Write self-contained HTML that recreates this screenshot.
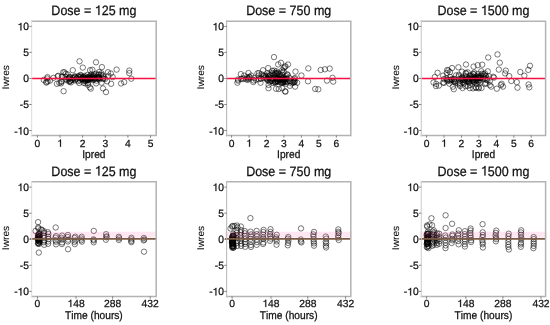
<!DOCTYPE html><html><head><meta charset="utf-8"><style>html,body{margin:0;padding:0;background:#fff;}svg{display:block;will-change:transform;}text{font-family:"Liberation Sans", sans-serif;text-rendering:geometricPrecision;font-kerning:none;white-space:pre;fill:#111;stroke:#111;stroke-width:0.25px;}path.g{fill:#111;stroke:#111;stroke-width:0.25px;}</style></head><body>
<svg width="550" height="325" viewBox="0 0 550 325">
<g transform="translate(93.90,15.00) scale(1,1.08)"><text x="-42.56" y="0" font-size="12.5">Dose = </text><path class="g" d="M4.43,0.00L5.53,0.00L5.53,-8.86L4.64,-8.86L4.36,-8.25L3.87,-7.69L3.12,-7.31L2.18,-7.12L2.18,-6.35L3.12,-6.46L3.87,-6.69L4.43,-7.00Z"/><text x="7.82" y="0" font-size="12.5">25 mg</text></g>
<g fill="none" stroke="#000" stroke-width="0.75" stroke-opacity="0.7"><circle cx="79.5" cy="61.3" r="2.7"/><circle cx="96.0" cy="62.3" r="2.7"/><circle cx="82.8" cy="67.6" r="2.7"/><circle cx="101.9" cy="67.1" r="2.7"/><circle cx="92.4" cy="69.8" r="2.7"/><circle cx="116.6" cy="69.6" r="2.7"/><circle cx="129.3" cy="70.6" r="2.7"/><circle cx="129.2" cy="73.1" r="2.7"/><circle cx="110.8" cy="73.5" r="2.7"/><circle cx="131.3" cy="78.7" r="2.7"/><circle cx="124.2" cy="82.1" r="2.7"/><circle cx="121.1" cy="83.5" r="2.7"/><circle cx="111.1" cy="83.8" r="2.7"/><circle cx="63.6" cy="91.2" r="2.7"/><circle cx="89.8" cy="87.3" r="2.7"/><circle cx="90.8" cy="88.6" r="2.7"/><circle cx="103.0" cy="88.4" r="2.7"/><circle cx="106.0" cy="92.1" r="2.7"/><circle cx="43.8" cy="79.9" r="2.7"/><circle cx="47.2" cy="78.5" r="2.7"/><circle cx="50.0" cy="80.6" r="2.7"/><circle cx="53.5" cy="77.8" r="2.7"/><circle cx="56.9" cy="83.8" r="2.7"/><circle cx="58.3" cy="75.8" r="2.7"/><circle cx="61.1" cy="83.4" r="2.7"/><circle cx="64.5" cy="72.3" r="2.7"/><circle cx="72.8" cy="70.2" r="2.7"/><circle cx="90.1" cy="70.2" r="2.7"/><circle cx="85.3" cy="83.4" r="2.7"/><circle cx="96.1" cy="83.4" r="2.7"/><circle cx="101.6" cy="82.7" r="2.7"/><circle cx="107.1" cy="81.3" r="2.7"/><circle cx="112.7" cy="77.1" r="2.7"/><circle cx="108.5" cy="75.8" r="2.7"/><circle cx="88.0" cy="84.8" r="2.7"/><circle cx="82.9" cy="78.7" r="2.7"/><circle cx="83.3" cy="76.9" r="2.7"/><circle cx="74.8" cy="77.2" r="2.7"/><circle cx="99.3" cy="78.5" r="2.7"/><circle cx="98.4" cy="78.1" r="2.7"/><circle cx="90.7" cy="78.0" r="2.7"/><circle cx="66.0" cy="79.4" r="2.7"/><circle cx="92.1" cy="78.6" r="2.7"/><circle cx="65.7" cy="73.9" r="2.7"/><circle cx="75.3" cy="76.6" r="2.7"/><circle cx="89.7" cy="77.5" r="2.7"/><circle cx="92.3" cy="76.3" r="2.7"/><circle cx="89.7" cy="78.4" r="2.7"/><circle cx="78.1" cy="81.2" r="2.7"/><circle cx="92.7" cy="80.1" r="2.7"/><circle cx="78.6" cy="76.0" r="2.7"/><circle cx="81.9" cy="77.4" r="2.7"/><circle cx="93.6" cy="78.1" r="2.7"/><circle cx="80.6" cy="75.6" r="2.7"/><circle cx="79.8" cy="80.2" r="2.7"/><circle cx="76.3" cy="78.1" r="2.7"/><circle cx="91.1" cy="74.5" r="2.7"/><circle cx="86.6" cy="80.3" r="2.7"/><circle cx="61.8" cy="76.9" r="2.7"/><circle cx="84.7" cy="75.9" r="2.7"/><circle cx="92.0" cy="77.5" r="2.7"/><circle cx="68.4" cy="79.3" r="2.7"/><circle cx="94.0" cy="79.6" r="2.7"/><circle cx="103.3" cy="78.4" r="2.7"/><circle cx="87.4" cy="74.9" r="2.7"/><circle cx="93.4" cy="76.3" r="2.7"/><circle cx="80.6" cy="74.9" r="2.7"/><circle cx="74.4" cy="76.5" r="2.7"/><circle cx="101.5" cy="73.3" r="2.7"/><circle cx="68.5" cy="78.1" r="2.7"/><circle cx="103.3" cy="78.8" r="2.7"/><circle cx="63.2" cy="72.3" r="2.7"/><circle cx="90.3" cy="76.1" r="2.7"/><circle cx="72.6" cy="79.7" r="2.7"/><circle cx="99.2" cy="77.9" r="2.7"/><circle cx="88.9" cy="78.5" r="2.7"/><circle cx="105.1" cy="78.9" r="2.7"/><circle cx="92.2" cy="78.8" r="2.7"/><circle cx="67.2" cy="80.3" r="2.7"/><circle cx="97.5" cy="78.7" r="2.7"/><circle cx="62.3" cy="76.3" r="2.7"/><circle cx="96.1" cy="73.8" r="2.7"/><circle cx="83.8" cy="79.7" r="2.7"/><circle cx="70.3" cy="81.0" r="2.7"/><circle cx="92.6" cy="77.3" r="2.7"/><circle cx="89.9" cy="79.0" r="2.7"/><circle cx="87.4" cy="80.0" r="2.7"/><circle cx="78.1" cy="76.7" r="2.7"/><circle cx="98.5" cy="77.7" r="2.7"/><circle cx="75.4" cy="79.6" r="2.7"/><circle cx="103.6" cy="76.7" r="2.7"/><circle cx="69.4" cy="77.3" r="2.7"/><circle cx="84.2" cy="77.0" r="2.7"/><circle cx="102.9" cy="75.4" r="2.7"/><circle cx="101.1" cy="74.9" r="2.7"/><circle cx="76.6" cy="78.9" r="2.7"/><circle cx="99.5" cy="79.4" r="2.7"/><circle cx="90.1" cy="77.9" r="2.7"/><circle cx="87.8" cy="78.8" r="2.7"/><circle cx="83.9" cy="78.2" r="2.7"/><circle cx="92.9" cy="77.6" r="2.7"/><circle cx="95.2" cy="78.8" r="2.7"/><circle cx="80.9" cy="76.8" r="2.7"/><circle cx="85.8" cy="79.5" r="2.7"/><circle cx="82.0" cy="78.4" r="2.7"/><circle cx="108.0" cy="72.2" r="2.7"/><circle cx="72.5" cy="78.1" r="2.7"/><circle cx="90.8" cy="78.1" r="2.7"/><circle cx="80.8" cy="79.0" r="2.7"/><circle cx="89.4" cy="76.5" r="2.7"/><circle cx="79.3" cy="77.4" r="2.7"/><circle cx="83.3" cy="77.5" r="2.7"/><circle cx="98.1" cy="75.1" r="2.7"/><circle cx="85.2" cy="79.6" r="2.7"/><circle cx="96.3" cy="80.7" r="2.7"/><circle cx="65.6" cy="76.9" r="2.7"/><circle cx="81.9" cy="78.9" r="2.7"/><circle cx="99.1" cy="72.0" r="2.7"/><circle cx="99.1" cy="74.6" r="2.7"/><circle cx="94.2" cy="74.5" r="2.7"/><circle cx="88.1" cy="80.1" r="2.7"/><circle cx="84.2" cy="78.0" r="2.7"/><circle cx="95.6" cy="77.9" r="2.7"/><circle cx="84.9" cy="80.8" r="2.7"/><circle cx="98.6" cy="77.0" r="2.7"/><circle cx="97.0" cy="77.0" r="2.7"/><circle cx="87.6" cy="79.1" r="2.7"/><circle cx="88.7" cy="78.9" r="2.7"/><circle cx="67.7" cy="74.4" r="2.7"/><circle cx="93.4" cy="75.6" r="2.7"/><circle cx="57.7" cy="76.3" r="2.7"/><circle cx="85.2" cy="81.1" r="2.7"/><circle cx="87.7" cy="77.4" r="2.7"/><circle cx="70.0" cy="77.0" r="2.7"/><circle cx="79.2" cy="83.0" r="2.7"/><circle cx="59.3" cy="82.9" r="2.7"/><circle cx="81.9" cy="79.1" r="2.7"/><circle cx="46.3" cy="82.6" r="2.7"/><circle cx="68.8" cy="78.2" r="2.7"/><circle cx="74.8" cy="80.4" r="2.7"/><circle cx="88.0" cy="77.3" r="2.7"/><circle cx="83.6" cy="82.8" r="2.7"/><circle cx="87.4" cy="79.1" r="2.7"/><circle cx="61.1" cy="81.7" r="2.7"/><circle cx="71.4" cy="79.8" r="2.7"/><circle cx="87.1" cy="78.9" r="2.7"/><circle cx="47.8" cy="81.3" r="2.7"/><circle cx="73.8" cy="78.2" r="2.7"/><circle cx="69.9" cy="81.3" r="2.7"/><circle cx="70.9" cy="82.4" r="2.7"/><circle cx="69.3" cy="81.8" r="2.7"/><circle cx="87.9" cy="83.0" r="2.7"/><circle cx="61.9" cy="81.4" r="2.7"/><circle cx="47.5" cy="77.1" r="2.7"/><circle cx="46.4" cy="81.9" r="2.7"/></g>
<line x1="31.6" x2="156.2" y1="78.45" y2="78.45" stroke="#fa1040" stroke-width="1.4"/>
<path d="M30.85,21.30H156.20V135.40H30.85" fill="none" stroke="#b3b3b3" stroke-width="1.5"/>
<line x1="31.60" x2="31.60" y1="20.55" y2="136.15" stroke="#e2e2e2" stroke-width="1.2"/>
<line x1="29.3" x2="31.6" y1="130.5" y2="130.5" stroke="#666" stroke-width="0.8"/>
<g transform="translate(29.00,134.50) scale(1,1.03)"><text x="-14.89" y="0" font-size="10.3">-</text><path class="g" d="M-8.52,0.00L-7.61,0.00L-7.61,-7.30L-8.35,-7.30L-8.57,-6.80L-8.98,-6.34L-9.60,-6.03L-10.38,-5.87L-10.38,-5.23L-9.60,-5.33L-8.98,-5.51L-8.52,-5.77Z"/><text x="-5.73" y="0" font-size="10.3">0</text></g>
<line x1="29.3" x2="31.6" y1="104.5" y2="104.5" stroke="#666" stroke-width="0.8"/>
<text transform="translate(29.00,108.47) scale(1,1.03)" font-size="10.3" text-anchor="end">-5</text>
<line x1="29.3" x2="31.6" y1="78.5" y2="78.5" stroke="#666" stroke-width="0.8"/>
<text transform="translate(29.00,82.45) scale(1,1.03)" font-size="10.3" text-anchor="end">0</text>
<line x1="29.3" x2="31.6" y1="52.4" y2="52.4" stroke="#666" stroke-width="0.8"/>
<text transform="translate(29.00,56.42) scale(1,1.03)" font-size="10.3" text-anchor="end">5</text>
<line x1="29.3" x2="31.6" y1="26.4" y2="26.4" stroke="#666" stroke-width="0.8"/>
<g transform="translate(29.00,30.40) scale(1,1.03)"><path class="g" d="M-8.52,0.00L-7.61,0.00L-7.61,-7.30L-8.35,-7.30L-8.57,-6.80L-8.98,-6.34L-9.60,-6.03L-10.38,-5.87L-10.38,-5.23L-9.60,-5.33L-8.98,-5.51L-8.52,-5.77Z"/><text x="-5.73" y="0" font-size="10.3">0</text></g>
<line x1="37.4" x2="37.4" y1="135.4" y2="137.7" stroke="#666" stroke-width="0.8"/>
<text transform="translate(37.40,146.80)" font-size="10.3" text-anchor="middle">0</text>
<line x1="60.0" x2="60.0" y1="135.4" y2="137.7" stroke="#666" stroke-width="0.8"/>
<g transform="translate(60.02,146.80)"><path class="g" d="M0.07,0.00L0.98,0.00L0.98,-7.30L0.24,-7.30L0.02,-6.80L-0.39,-6.34L-1.01,-6.03L-1.78,-5.87L-1.78,-5.23L-1.01,-5.33L-0.39,-5.51L0.07,-5.77Z"/></g>
<line x1="82.6" x2="82.6" y1="135.4" y2="137.7" stroke="#666" stroke-width="0.8"/>
<text transform="translate(82.64,146.80)" font-size="10.3" text-anchor="middle">2</text>
<line x1="105.3" x2="105.3" y1="135.4" y2="137.7" stroke="#666" stroke-width="0.8"/>
<text transform="translate(105.26,146.80)" font-size="10.3" text-anchor="middle">3</text>
<line x1="127.9" x2="127.9" y1="135.4" y2="137.7" stroke="#666" stroke-width="0.8"/>
<text transform="translate(127.88,146.80)" font-size="10.3" text-anchor="middle">4</text>
<line x1="150.5" x2="150.5" y1="135.4" y2="137.7" stroke="#666" stroke-width="0.8"/>
<text transform="translate(150.50,146.80)" font-size="10.3" text-anchor="middle">5</text>
<text transform="translate(93.90,157.80) scale(1,1.1)" font-size="10.2" text-anchor="middle">Ipred</text>
<text transform="translate(9.40,77.25) rotate(-90) scale(1,0.95)" font-size="10.2" text-anchor="middle" style="stroke-width:0.1px">Iwres</text>
<text transform="translate(288.70,15.00) scale(1,1.08)" font-size="12.5" text-anchor="middle">Dose = 750 mg</text>
<g fill="none" stroke="#000" stroke-width="0.75" stroke-opacity="0.7"><circle cx="274.0" cy="57.1" r="2.7"/><circle cx="278.2" cy="64.4" r="2.7"/><circle cx="284.8" cy="66.8" r="2.7"/><circle cx="240.8" cy="74.1" r="2.7"/><circle cx="248.5" cy="73.0" r="2.7"/><circle cx="237.4" cy="82.7" r="2.7"/><circle cx="238.1" cy="80.6" r="2.7"/><circle cx="257.4" cy="73.3" r="2.7"/><circle cx="263.0" cy="70.2" r="2.7"/><circle cx="268.5" cy="88.2" r="2.7"/><circle cx="285.1" cy="91.3" r="2.7"/><circle cx="253.3" cy="82.0" r="2.7"/><circle cx="247.8" cy="79.9" r="2.7"/><circle cx="243.6" cy="78.5" r="2.7"/><circle cx="308.3" cy="68.4" r="2.7"/><circle cx="320.7" cy="70.0" r="2.7"/><circle cx="324.9" cy="69.3" r="2.7"/><circle cx="329.7" cy="68.6" r="2.7"/><circle cx="301.4" cy="75.5" r="2.7"/><circle cx="308.0" cy="81.3" r="2.7"/><circle cx="327.0" cy="80.6" r="2.7"/><circle cx="332.5" cy="77.8" r="2.7"/><circle cx="333.2" cy="81.6" r="2.7"/><circle cx="315.2" cy="88.9" r="2.7"/><circle cx="318.3" cy="89.3" r="2.7"/><circle cx="285.5" cy="66.3" r="2.7"/><circle cx="285.5" cy="91.7" r="2.7"/><circle cx="295.1" cy="86.6" r="2.7"/><circle cx="294.5" cy="82.0" r="2.7"/><circle cx="266.9" cy="78.5" r="2.7"/><circle cx="276.3" cy="78.5" r="2.7"/><circle cx="272.7" cy="79.5" r="2.7"/><circle cx="294.1" cy="78.8" r="2.7"/><circle cx="282.8" cy="82.6" r="2.7"/><circle cx="276.2" cy="73.6" r="2.7"/><circle cx="273.0" cy="82.9" r="2.7"/><circle cx="263.2" cy="76.2" r="2.7"/><circle cx="287.1" cy="81.8" r="2.7"/><circle cx="278.1" cy="81.8" r="2.7"/><circle cx="279.5" cy="73.9" r="2.7"/><circle cx="263.9" cy="76.0" r="2.7"/><circle cx="286.3" cy="76.3" r="2.7"/><circle cx="269.9" cy="75.5" r="2.7"/><circle cx="264.2" cy="78.1" r="2.7"/><circle cx="267.4" cy="80.1" r="2.7"/><circle cx="272.2" cy="70.8" r="2.7"/><circle cx="284.5" cy="77.5" r="2.7"/><circle cx="280.6" cy="76.8" r="2.7"/><circle cx="285.0" cy="81.6" r="2.7"/><circle cx="284.0" cy="79.9" r="2.7"/><circle cx="290.0" cy="81.2" r="2.7"/><circle cx="282.1" cy="70.3" r="2.7"/><circle cx="286.1" cy="83.8" r="2.7"/><circle cx="275.3" cy="76.7" r="2.7"/><circle cx="295.5" cy="71.6" r="2.7"/><circle cx="282.2" cy="88.3" r="2.7"/><circle cx="269.7" cy="81.4" r="2.7"/><circle cx="295.0" cy="78.1" r="2.7"/><circle cx="283.1" cy="82.2" r="2.7"/><circle cx="269.8" cy="78.2" r="2.7"/><circle cx="280.6" cy="81.9" r="2.7"/><circle cx="277.7" cy="77.8" r="2.7"/><circle cx="268.9" cy="77.2" r="2.7"/><circle cx="286.0" cy="79.0" r="2.7"/><circle cx="270.3" cy="75.2" r="2.7"/><circle cx="283.7" cy="68.2" r="2.7"/><circle cx="283.6" cy="80.5" r="2.7"/><circle cx="293.2" cy="80.3" r="2.7"/><circle cx="277.4" cy="80.7" r="2.7"/><circle cx="260.5" cy="82.7" r="2.7"/><circle cx="280.9" cy="75.8" r="2.7"/><circle cx="289.9" cy="85.8" r="2.7"/><circle cx="265.4" cy="75.9" r="2.7"/><circle cx="280.6" cy="79.3" r="2.7"/><circle cx="274.4" cy="74.7" r="2.7"/><circle cx="297.1" cy="82.7" r="2.7"/><circle cx="267.3" cy="73.2" r="2.7"/><circle cx="293.3" cy="82.6" r="2.7"/><circle cx="294.4" cy="81.8" r="2.7"/><circle cx="270.2" cy="79.6" r="2.7"/><circle cx="258.6" cy="75.6" r="2.7"/><circle cx="277.5" cy="80.7" r="2.7"/><circle cx="271.5" cy="78.1" r="2.7"/><circle cx="282.1" cy="80.1" r="2.7"/><circle cx="283.7" cy="79.4" r="2.7"/><circle cx="275.1" cy="81.8" r="2.7"/><circle cx="278.4" cy="75.3" r="2.7"/><circle cx="272.4" cy="78.6" r="2.7"/><circle cx="277.0" cy="79.2" r="2.7"/><circle cx="278.0" cy="79.3" r="2.7"/><circle cx="276.8" cy="73.6" r="2.7"/><circle cx="281.8" cy="82.8" r="2.7"/><circle cx="281.9" cy="77.8" r="2.7"/><circle cx="282.0" cy="74.7" r="2.7"/><circle cx="260.9" cy="78.8" r="2.7"/><circle cx="269.6" cy="81.6" r="2.7"/><circle cx="268.2" cy="68.1" r="2.7"/><circle cx="268.6" cy="84.9" r="2.7"/><circle cx="274.6" cy="73.1" r="2.7"/><circle cx="271.1" cy="80.7" r="2.7"/><circle cx="282.5" cy="79.3" r="2.7"/><circle cx="291.4" cy="81.4" r="2.7"/><circle cx="277.8" cy="81.0" r="2.7"/><circle cx="292.9" cy="82.5" r="2.7"/><circle cx="287.2" cy="74.3" r="2.7"/><circle cx="276.7" cy="81.5" r="2.7"/><circle cx="275.3" cy="82.9" r="2.7"/><circle cx="283.4" cy="82.2" r="2.7"/><circle cx="276.1" cy="88.8" r="2.7"/><circle cx="289.2" cy="77.7" r="2.7"/><circle cx="278.8" cy="89.0" r="2.7"/><circle cx="274.9" cy="82.1" r="2.7"/><circle cx="286.8" cy="78.6" r="2.7"/><circle cx="267.5" cy="79.4" r="2.7"/><circle cx="281.2" cy="83.1" r="2.7"/><circle cx="285.0" cy="78.7" r="2.7"/><circle cx="285.7" cy="80.8" r="2.7"/><circle cx="279.9" cy="78.8" r="2.7"/><circle cx="275.8" cy="81.3" r="2.7"/><circle cx="268.5" cy="76.1" r="2.7"/><circle cx="278.0" cy="72.7" r="2.7"/><circle cx="274.1" cy="70.6" r="2.7"/><circle cx="271.9" cy="80.9" r="2.7"/><circle cx="283.1" cy="78.4" r="2.7"/><circle cx="275.9" cy="72.9" r="2.7"/><circle cx="294.5" cy="80.7" r="2.7"/><circle cx="287.8" cy="75.1" r="2.7"/><circle cx="276.3" cy="71.3" r="2.7"/><circle cx="285.0" cy="82.3" r="2.7"/><circle cx="260.9" cy="78.4" r="2.7"/><circle cx="283.7" cy="71.6" r="2.7"/><circle cx="261.6" cy="74.3" r="2.7"/><circle cx="272.3" cy="73.0" r="2.7"/><circle cx="278.3" cy="79.6" r="2.7"/><circle cx="283.7" cy="81.4" r="2.7"/><circle cx="291.5" cy="83.3" r="2.7"/><circle cx="266.2" cy="76.6" r="2.7"/><circle cx="268.5" cy="74.3" r="2.7"/><circle cx="277.3" cy="78.6" r="2.7"/><circle cx="282.4" cy="72.3" r="2.7"/><circle cx="266.9" cy="78.5" r="2.7"/><circle cx="276.2" cy="77.4" r="2.7"/><circle cx="277.4" cy="75.6" r="2.7"/><circle cx="284.3" cy="80.0" r="2.7"/><circle cx="281.0" cy="62.8" r="2.7"/><circle cx="288.0" cy="64.5" r="2.7"/><circle cx="249.3" cy="77.3" r="2.7"/><circle cx="242.1" cy="79.1" r="2.7"/><circle cx="238.0" cy="79.5" r="2.7"/><circle cx="251.2" cy="75.6" r="2.7"/><circle cx="248.0" cy="78.2" r="2.7"/><circle cx="253.7" cy="80.5" r="2.7"/><circle cx="249.7" cy="76.9" r="2.7"/><circle cx="248.8" cy="78.8" r="2.7"/><circle cx="255.9" cy="79.7" r="2.7"/><circle cx="244.2" cy="75.6" r="2.7"/><circle cx="247.0" cy="77.1" r="2.7"/><circle cx="241.1" cy="78.7" r="2.7"/><circle cx="246.1" cy="79.3" r="2.7"/><circle cx="254.2" cy="78.0" r="2.7"/><circle cx="258.8" cy="79.3" r="2.7"/><circle cx="258.9" cy="73.1" r="2.7"/></g>
<line x1="226.6" x2="350.8" y1="78.45" y2="78.45" stroke="#fa1040" stroke-width="1.4"/>
<path d="M225.85,21.30H350.80V135.40H225.85" fill="none" stroke="#b3b3b3" stroke-width="1.5"/>
<line x1="226.60" x2="226.60" y1="20.55" y2="136.15" stroke="#bcbcbc" stroke-width="1.2"/>
<line x1="224.3" x2="226.6" y1="130.5" y2="130.5" stroke="#666" stroke-width="0.8"/>
<g transform="translate(224.00,134.50) scale(1,1.03)"><text x="-14.89" y="0" font-size="10.3">-</text><path class="g" d="M-8.52,0.00L-7.61,0.00L-7.61,-7.30L-8.35,-7.30L-8.57,-6.80L-8.98,-6.34L-9.60,-6.03L-10.38,-5.87L-10.38,-5.23L-9.60,-5.33L-8.98,-5.51L-8.52,-5.77Z"/><text x="-5.73" y="0" font-size="10.3">0</text></g>
<line x1="224.3" x2="226.6" y1="104.5" y2="104.5" stroke="#666" stroke-width="0.8"/>
<text transform="translate(224.00,108.47) scale(1,1.03)" font-size="10.3" text-anchor="end">-5</text>
<line x1="224.3" x2="226.6" y1="78.5" y2="78.5" stroke="#666" stroke-width="0.8"/>
<text transform="translate(224.00,82.45) scale(1,1.03)" font-size="10.3" text-anchor="end">0</text>
<line x1="224.3" x2="226.6" y1="52.4" y2="52.4" stroke="#666" stroke-width="0.8"/>
<text transform="translate(224.00,56.42) scale(1,1.03)" font-size="10.3" text-anchor="end">5</text>
<line x1="224.3" x2="226.6" y1="26.4" y2="26.4" stroke="#666" stroke-width="0.8"/>
<g transform="translate(224.00,30.40) scale(1,1.03)"><path class="g" d="M-8.52,0.00L-7.61,0.00L-7.61,-7.30L-8.35,-7.30L-8.57,-6.80L-8.98,-6.34L-9.60,-6.03L-10.38,-5.87L-10.38,-5.23L-9.60,-5.33L-8.98,-5.51L-8.52,-5.77Z"/><text x="-5.73" y="0" font-size="10.3">0</text></g>
<line x1="231.6" x2="231.6" y1="135.4" y2="137.7" stroke="#666" stroke-width="0.8"/>
<text transform="translate(231.60,146.80)" font-size="10.3" text-anchor="middle">0</text>
<line x1="249.1" x2="249.1" y1="135.4" y2="137.7" stroke="#666" stroke-width="0.8"/>
<g transform="translate(249.05,146.80)"><path class="g" d="M0.07,0.00L0.98,0.00L0.98,-7.30L0.24,-7.30L0.02,-6.80L-0.39,-6.34L-1.01,-6.03L-1.78,-5.87L-1.78,-5.23L-1.01,-5.33L-0.39,-5.51L0.07,-5.77Z"/></g>
<line x1="266.5" x2="266.5" y1="135.4" y2="137.7" stroke="#666" stroke-width="0.8"/>
<text transform="translate(266.50,146.80)" font-size="10.3" text-anchor="middle">2</text>
<line x1="283.9" x2="283.9" y1="135.4" y2="137.7" stroke="#666" stroke-width="0.8"/>
<text transform="translate(283.95,146.80)" font-size="10.3" text-anchor="middle">3</text>
<line x1="301.4" x2="301.4" y1="135.4" y2="137.7" stroke="#666" stroke-width="0.8"/>
<text transform="translate(301.40,146.80)" font-size="10.3" text-anchor="middle">4</text>
<line x1="318.9" x2="318.9" y1="135.4" y2="137.7" stroke="#666" stroke-width="0.8"/>
<text transform="translate(318.85,146.80)" font-size="10.3" text-anchor="middle">5</text>
<line x1="336.3" x2="336.3" y1="135.4" y2="137.7" stroke="#666" stroke-width="0.8"/>
<text transform="translate(336.30,146.80)" font-size="10.3" text-anchor="middle">6</text>
<text transform="translate(288.70,157.80) scale(1,1.1)" font-size="10.2" text-anchor="middle">Ipred</text>
<text transform="translate(204.40,77.25) rotate(-90) scale(1,0.95)" font-size="10.2" text-anchor="middle" style="stroke-width:0.1px">Iwres</text>
<g transform="translate(483.45,15.00) scale(1,1.08)"><text x="-46.04" y="0" font-size="12.5">Dose = </text><path class="g" d="M0.96,0.00L2.05,0.00L2.05,-8.86L1.16,-8.86L0.89,-8.25L0.39,-7.69L-0.36,-7.31L-1.30,-7.12L-1.30,-6.35L-0.36,-6.46L0.39,-6.69L0.96,-7.00Z"/><text x="4.34" y="0" font-size="12.5">500 mg</text></g>
<g fill="none" stroke="#000" stroke-width="0.75" stroke-opacity="0.7"><circle cx="433.5" cy="82.5" r="2.7"/><circle cx="437.6" cy="72.8" r="2.7"/><circle cx="434.8" cy="77.0" r="2.7"/><circle cx="443.1" cy="75.6" r="2.7"/><circle cx="452.1" cy="68.0" r="2.7"/><circle cx="458.4" cy="67.3" r="2.7"/><circle cx="466.0" cy="64.5" r="2.7"/><circle cx="443.1" cy="82.5" r="2.7"/><circle cx="452.8" cy="86.7" r="2.7"/><circle cx="462.5" cy="88.0" r="2.7"/><circle cx="450.0" cy="72.1" r="2.7"/><circle cx="447.3" cy="81.1" r="2.7"/><circle cx="473.6" cy="66.6" r="2.7"/><circle cx="477.7" cy="65.2" r="2.7"/><circle cx="497.5" cy="54.4" r="2.7"/><circle cx="488.2" cy="57.5" r="2.7"/><circle cx="499.8" cy="62.7" r="2.7"/><circle cx="482.2" cy="64.7" r="2.7"/><circle cx="487.8" cy="71.3" r="2.7"/><circle cx="498.8" cy="69.6" r="2.7"/><circle cx="505.8" cy="70.6" r="2.7"/><circle cx="505.1" cy="73.4" r="2.7"/><circle cx="530.0" cy="65.8" r="2.7"/><circle cx="528.3" cy="69.9" r="2.7"/><circle cx="520.3" cy="72.0" r="2.7"/><circle cx="524.4" cy="75.7" r="2.7"/><circle cx="511.3" cy="81.0" r="2.7"/><circle cx="516.8" cy="82.1" r="2.7"/><circle cx="493.3" cy="76.8" r="2.7"/><circle cx="489.8" cy="85.1" r="2.7"/><circle cx="500.9" cy="85.1" r="2.7"/><circle cx="517.5" cy="87.7" r="2.7"/><circle cx="528.6" cy="84.5" r="2.7"/><circle cx="529.3" cy="87.3" r="2.7"/><circle cx="491.2" cy="86.6" r="2.7"/><circle cx="496.8" cy="88.7" r="2.7"/><circle cx="503.0" cy="86.6" r="2.7"/><circle cx="501.6" cy="83.8" r="2.7"/><circle cx="485.0" cy="83.8" r="2.7"/><circle cx="481.5" cy="88.0" r="2.7"/><circle cx="489.8" cy="81.1" r="2.7"/><circle cx="494.0" cy="77.6" r="2.7"/><circle cx="509.2" cy="76.1" r="2.7"/><circle cx="468.0" cy="79.5" r="2.7"/><circle cx="478.8" cy="88.3" r="2.7"/><circle cx="476.6" cy="83.9" r="2.7"/><circle cx="480.1" cy="82.5" r="2.7"/><circle cx="478.1" cy="77.8" r="2.7"/><circle cx="478.1" cy="74.0" r="2.7"/><circle cx="483.5" cy="74.2" r="2.7"/><circle cx="476.0" cy="87.4" r="2.7"/><circle cx="472.2" cy="78.6" r="2.7"/><circle cx="483.3" cy="78.6" r="2.7"/><circle cx="467.5" cy="79.6" r="2.7"/><circle cx="478.7" cy="81.5" r="2.7"/><circle cx="467.8" cy="85.9" r="2.7"/><circle cx="487.3" cy="78.6" r="2.7"/><circle cx="476.1" cy="76.7" r="2.7"/><circle cx="485.3" cy="75.5" r="2.7"/><circle cx="479.4" cy="76.5" r="2.7"/><circle cx="468.4" cy="81.5" r="2.7"/><circle cx="484.7" cy="78.5" r="2.7"/><circle cx="468.6" cy="81.9" r="2.7"/><circle cx="473.6" cy="79.8" r="2.7"/><circle cx="486.2" cy="83.3" r="2.7"/><circle cx="469.8" cy="88.1" r="2.7"/><circle cx="474.0" cy="81.8" r="2.7"/><circle cx="468.8" cy="78.3" r="2.7"/><circle cx="460.0" cy="86.0" r="2.7"/><circle cx="484.9" cy="73.4" r="2.7"/><circle cx="462.0" cy="71.7" r="2.7"/><circle cx="483.4" cy="76.6" r="2.7"/><circle cx="473.5" cy="77.2" r="2.7"/><circle cx="473.0" cy="73.9" r="2.7"/><circle cx="474.2" cy="72.5" r="2.7"/><circle cx="473.4" cy="79.8" r="2.7"/><circle cx="477.7" cy="77.5" r="2.7"/><circle cx="466.8" cy="79.2" r="2.7"/><circle cx="470.1" cy="85.1" r="2.7"/><circle cx="480.1" cy="78.0" r="2.7"/><circle cx="470.2" cy="75.5" r="2.7"/><circle cx="466.5" cy="77.0" r="2.7"/><circle cx="476.4" cy="80.7" r="2.7"/><circle cx="478.6" cy="87.3" r="2.7"/><circle cx="468.4" cy="78.6" r="2.7"/><circle cx="469.8" cy="79.2" r="2.7"/><circle cx="475.2" cy="80.2" r="2.7"/><circle cx="472.1" cy="80.0" r="2.7"/><circle cx="474.4" cy="81.7" r="2.7"/><circle cx="458.9" cy="74.8" r="2.7"/><circle cx="474.0" cy="74.2" r="2.7"/><circle cx="465.6" cy="81.1" r="2.7"/><circle cx="468.8" cy="81.2" r="2.7"/><circle cx="480.0" cy="79.8" r="2.7"/><circle cx="478.1" cy="78.1" r="2.7"/><circle cx="462.7" cy="78.4" r="2.7"/><circle cx="477.6" cy="76.3" r="2.7"/><circle cx="473.2" cy="81.6" r="2.7"/><circle cx="467.0" cy="81.2" r="2.7"/><circle cx="488.9" cy="76.2" r="2.7"/><circle cx="475.2" cy="77.9" r="2.7"/><circle cx="486.3" cy="79.8" r="2.7"/><circle cx="481.2" cy="75.6" r="2.7"/><circle cx="473.9" cy="78.5" r="2.7"/><circle cx="459.8" cy="84.6" r="2.7"/><circle cx="481.2" cy="71.2" r="2.7"/><circle cx="480.0" cy="77.9" r="2.7"/><circle cx="477.6" cy="80.0" r="2.7"/><circle cx="462.0" cy="77.6" r="2.7"/><circle cx="485.9" cy="76.1" r="2.7"/><circle cx="465.8" cy="72.8" r="2.7"/><circle cx="464.2" cy="79.9" r="2.7"/><circle cx="487.5" cy="80.3" r="2.7"/><circle cx="476.0" cy="87.9" r="2.7"/><circle cx="469.8" cy="75.7" r="2.7"/><circle cx="478.2" cy="80.8" r="2.7"/><circle cx="465.9" cy="73.6" r="2.7"/><circle cx="476.3" cy="79.5" r="2.7"/><circle cx="446.3" cy="78.1" r="2.7"/><circle cx="455.5" cy="81.0" r="2.7"/><circle cx="460.6" cy="78.6" r="2.7"/><circle cx="457.8" cy="83.5" r="2.7"/><circle cx="478.7" cy="77.4" r="2.7"/><circle cx="472.2" cy="75.7" r="2.7"/><circle cx="462.9" cy="82.2" r="2.7"/><circle cx="480.2" cy="77.4" r="2.7"/><circle cx="461.1" cy="79.8" r="2.7"/><circle cx="444.0" cy="79.1" r="2.7"/><circle cx="453.9" cy="80.6" r="2.7"/><circle cx="448.4" cy="70.5" r="2.7"/><circle cx="462.5" cy="80.1" r="2.7"/><circle cx="455.4" cy="82.8" r="2.7"/><circle cx="458.7" cy="76.4" r="2.7"/><circle cx="467.7" cy="72.3" r="2.7"/><circle cx="453.9" cy="78.9" r="2.7"/><circle cx="472.2" cy="78.3" r="2.7"/><circle cx="465.7" cy="76.2" r="2.7"/><circle cx="465.6" cy="86.2" r="2.7"/><circle cx="453.8" cy="89.2" r="2.7"/><circle cx="454.3" cy="79.1" r="2.7"/><circle cx="464.1" cy="83.4" r="2.7"/><circle cx="447.2" cy="70.0" r="2.7"/><circle cx="469.3" cy="82.4" r="2.7"/><circle cx="464.5" cy="80.1" r="2.7"/><circle cx="473.2" cy="80.6" r="2.7"/><circle cx="482.0" cy="73.7" r="2.7"/><circle cx="471.7" cy="77.4" r="2.7"/><circle cx="473.1" cy="88.3" r="2.7"/><circle cx="461.9" cy="77.9" r="2.7"/><circle cx="456.0" cy="75.4" r="2.7"/><circle cx="454.4" cy="81.7" r="2.7"/><circle cx="462.4" cy="79.3" r="2.7"/><circle cx="459.9" cy="82.9" r="2.7"/><circle cx="450.5" cy="80.0" r="2.7"/><circle cx="451.7" cy="80.0" r="2.7"/><circle cx="438.9" cy="85.6" r="2.7"/><circle cx="450.3" cy="77.1" r="2.7"/><circle cx="454.6" cy="81.7" r="2.7"/><circle cx="436.0" cy="86.1" r="2.7"/><circle cx="449.3" cy="83.6" r="2.7"/><circle cx="448.4" cy="80.0" r="2.7"/><circle cx="436.2" cy="83.9" r="2.7"/><circle cx="447.2" cy="79.5" r="2.7"/><circle cx="449.5" cy="80.8" r="2.7"/><circle cx="451.7" cy="79.2" r="2.7"/><circle cx="446.7" cy="73.0" r="2.7"/><circle cx="444.0" cy="82.9" r="2.7"/></g>
<line x1="421.3" x2="545.6" y1="78.45" y2="78.45" stroke="#fa1040" stroke-width="1.4"/>
<path d="M420.55,21.30H545.60V135.40H420.55" fill="none" stroke="#b3b3b3" stroke-width="1.5"/>
<line x1="421.30" x2="421.30" y1="20.55" y2="136.15" stroke="#cfcfcf" stroke-width="1.2"/>
<line x1="419.0" x2="421.3" y1="130.5" y2="130.5" stroke="#666" stroke-width="0.8"/>
<g transform="translate(418.70,134.50) scale(1,1.03)"><text x="-14.89" y="0" font-size="10.3">-</text><path class="g" d="M-8.52,0.00L-7.61,0.00L-7.61,-7.30L-8.35,-7.30L-8.57,-6.80L-8.98,-6.34L-9.60,-6.03L-10.38,-5.87L-10.38,-5.23L-9.60,-5.33L-8.98,-5.51L-8.52,-5.77Z"/><text x="-5.73" y="0" font-size="10.3">0</text></g>
<line x1="419.0" x2="421.3" y1="104.5" y2="104.5" stroke="#666" stroke-width="0.8"/>
<text transform="translate(418.70,108.47) scale(1,1.03)" font-size="10.3" text-anchor="end">-5</text>
<line x1="419.0" x2="421.3" y1="78.5" y2="78.5" stroke="#666" stroke-width="0.8"/>
<text transform="translate(418.70,82.45) scale(1,1.03)" font-size="10.3" text-anchor="end">0</text>
<line x1="419.0" x2="421.3" y1="52.4" y2="52.4" stroke="#666" stroke-width="0.8"/>
<text transform="translate(418.70,56.42) scale(1,1.03)" font-size="10.3" text-anchor="end">5</text>
<line x1="419.0" x2="421.3" y1="26.4" y2="26.4" stroke="#666" stroke-width="0.8"/>
<g transform="translate(418.70,30.40) scale(1,1.03)"><path class="g" d="M-8.52,0.00L-7.61,0.00L-7.61,-7.30L-8.35,-7.30L-8.57,-6.80L-8.98,-6.34L-9.60,-6.03L-10.38,-5.87L-10.38,-5.23L-9.60,-5.33L-8.98,-5.51L-8.52,-5.77Z"/><text x="-5.73" y="0" font-size="10.3">0</text></g>
<line x1="426.6" x2="426.6" y1="135.4" y2="137.7" stroke="#666" stroke-width="0.8"/>
<text transform="translate(426.60,146.80)" font-size="10.3" text-anchor="middle">0</text>
<line x1="444.0" x2="444.0" y1="135.4" y2="137.7" stroke="#666" stroke-width="0.8"/>
<g transform="translate(444.03,146.80)"><path class="g" d="M0.07,0.00L0.98,0.00L0.98,-7.30L0.24,-7.30L0.02,-6.80L-0.39,-6.34L-1.01,-6.03L-1.78,-5.87L-1.78,-5.23L-1.01,-5.33L-0.39,-5.51L0.07,-5.77Z"/></g>
<line x1="461.5" x2="461.5" y1="135.4" y2="137.7" stroke="#666" stroke-width="0.8"/>
<text transform="translate(461.47,146.80)" font-size="10.3" text-anchor="middle">2</text>
<line x1="478.9" x2="478.9" y1="135.4" y2="137.7" stroke="#666" stroke-width="0.8"/>
<text transform="translate(478.90,146.80)" font-size="10.3" text-anchor="middle">3</text>
<line x1="496.3" x2="496.3" y1="135.4" y2="137.7" stroke="#666" stroke-width="0.8"/>
<text transform="translate(496.33,146.80)" font-size="10.3" text-anchor="middle">4</text>
<line x1="513.8" x2="513.8" y1="135.4" y2="137.7" stroke="#666" stroke-width="0.8"/>
<text transform="translate(513.77,146.80)" font-size="10.3" text-anchor="middle">5</text>
<line x1="531.2" x2="531.2" y1="135.4" y2="137.7" stroke="#666" stroke-width="0.8"/>
<text transform="translate(531.20,146.80)" font-size="10.3" text-anchor="middle">6</text>
<text transform="translate(483.45,157.80) scale(1,1.1)" font-size="10.2" text-anchor="middle">Ipred</text>
<text transform="translate(399.10,77.25) rotate(-90) scale(1,0.95)" font-size="10.2" text-anchor="middle" style="stroke-width:0.1px">Iwres</text>
<g transform="translate(93.90,175.50) scale(1,1.08)"><text x="-42.56" y="0" font-size="12.5">Dose = </text><path class="g" d="M4.43,0.00L5.53,0.00L5.53,-8.86L4.64,-8.86L4.36,-8.25L3.87,-7.69L3.12,-7.31L2.18,-7.12L2.18,-6.35L3.12,-6.46L3.87,-6.69L4.43,-7.00Z"/><text x="7.82" y="0" font-size="12.5">25 mg</text></g>
<g fill="none" stroke="#000" stroke-width="0.75" stroke-opacity="0.7"><circle cx="38.1" cy="222.1" r="2.7"/><circle cx="38.1" cy="227.5" r="2.7"/><circle cx="38.8" cy="252.6" r="2.7"/><circle cx="55.7" cy="227.5" r="2.7"/><circle cx="68.1" cy="249.2" r="2.7"/><circle cx="93.8" cy="230.9" r="2.7"/><circle cx="144.0" cy="251.7" r="2.7"/><circle cx="42.0" cy="230.0" r="2.7"/><circle cx="35.5" cy="231.0" r="2.7"/><circle cx="39.5" cy="238.7" r="2.7"/><circle cx="38.4" cy="234.1" r="2.7"/><circle cx="39.2" cy="243.8" r="2.7"/><circle cx="38.9" cy="241.2" r="2.7"/><circle cx="38.7" cy="239.4" r="2.7"/><circle cx="39.5" cy="236.6" r="2.7"/><circle cx="38.6" cy="243.3" r="2.7"/><circle cx="38.1" cy="238.6" r="2.7"/><circle cx="39.2" cy="233.5" r="2.7"/><circle cx="38.4" cy="237.7" r="2.7"/><circle cx="39.2" cy="236.1" r="2.7"/><circle cx="39.2" cy="234.7" r="2.7"/><circle cx="37.9" cy="237.3" r="2.7"/><circle cx="39.6" cy="241.4" r="2.7"/><circle cx="38.0" cy="239.0" r="2.7"/><circle cx="39.1" cy="236.4" r="2.7"/><circle cx="38.6" cy="238.9" r="2.7"/><circle cx="39.0" cy="241.6" r="2.7"/><circle cx="38.0" cy="235.4" r="2.7"/><circle cx="38.3" cy="237.8" r="2.7"/><circle cx="39.1" cy="236.5" r="2.7"/><circle cx="38.2" cy="242.9" r="2.7"/><circle cx="38.8" cy="238.0" r="2.7"/><circle cx="39.6" cy="236.4" r="2.7"/><circle cx="39.3" cy="240.4" r="2.7"/><circle cx="38.7" cy="239.0" r="2.7"/><circle cx="39.3" cy="241.5" r="2.7"/><circle cx="38.0" cy="243.7" r="2.7"/><circle cx="38.8" cy="239.7" r="2.7"/><circle cx="38.5" cy="236.9" r="2.7"/><circle cx="39.2" cy="239.8" r="2.7"/><circle cx="38.0" cy="240.2" r="2.7"/><circle cx="38.2" cy="235.5" r="2.7"/><circle cx="38.2" cy="240.0" r="2.7"/><circle cx="38.5" cy="228.5" r="2.7"/><circle cx="41.0" cy="229.5" r="2.7"/><circle cx="44.0" cy="231.3" r="2.7"/><circle cx="44.1" cy="232.9" r="2.7"/><circle cx="43.9" cy="235.9" r="2.7"/><circle cx="44.0" cy="237.8" r="2.7"/><circle cx="44.2" cy="240.6" r="2.7"/><circle cx="43.9" cy="242.2" r="2.7"/><circle cx="44.2" cy="244.8" r="2.7"/><circle cx="47.9" cy="232.2" r="2.7"/><circle cx="48.4" cy="234.1" r="2.7"/><circle cx="48.0" cy="236.7" r="2.7"/><circle cx="48.6" cy="239.0" r="2.7"/><circle cx="48.3" cy="241.4" r="2.7"/><circle cx="48.1" cy="243.8" r="2.7"/><circle cx="56.1" cy="236.1" r="2.7"/><circle cx="55.5" cy="237.7" r="2.7"/><circle cx="55.5" cy="240.3" r="2.7"/><circle cx="56.0" cy="241.7" r="2.7"/><circle cx="56.0" cy="244.3" r="2.7"/><circle cx="62.1" cy="235.6" r="2.7"/><circle cx="61.5" cy="237.8" r="2.7"/><circle cx="61.8" cy="239.6" r="2.7"/><circle cx="62.1" cy="242.4" r="2.7"/><circle cx="61.9" cy="244.0" r="2.7"/><circle cx="67.9" cy="235.0" r="2.7"/><circle cx="67.7" cy="237.0" r="2.7"/><circle cx="68.2" cy="239.7" r="2.7"/><circle cx="67.9" cy="241.5" r="2.7"/><circle cx="75.3" cy="236.7" r="2.7"/><circle cx="74.6" cy="237.9" r="2.7"/><circle cx="75.3" cy="240.5" r="2.7"/><circle cx="74.5" cy="241.9" r="2.7"/><circle cx="74.8" cy="244.1" r="2.7"/><circle cx="81.7" cy="236.8" r="2.7"/><circle cx="81.3" cy="238.5" r="2.7"/><circle cx="81.4" cy="240.2" r="2.7"/><circle cx="81.9" cy="241.6" r="2.7"/><circle cx="93.5" cy="239.4" r="2.7"/><circle cx="93.7" cy="240.4" r="2.7"/><circle cx="93.7" cy="242.3" r="2.7"/><circle cx="106.1" cy="234.2" r="2.7"/><circle cx="106.6" cy="236.4" r="2.7"/><circle cx="106.3" cy="237.3" r="2.7"/><circle cx="105.9" cy="239.7" r="2.7"/><circle cx="118.8" cy="236.8" r="2.7"/><circle cx="119.1" cy="238.3" r="2.7"/><circle cx="118.9" cy="240.0" r="2.7"/><circle cx="131.4" cy="237.8" r="2.7"/><circle cx="131.4" cy="239.4" r="2.7"/><circle cx="131.3" cy="241.0" r="2.7"/><circle cx="131.4" cy="242.2" r="2.7"/><circle cx="143.8" cy="238.0" r="2.7"/><circle cx="144.2" cy="239.5" r="2.7"/><circle cx="143.7" cy="240.4" r="2.7"/></g>
<rect x="30.1" y="231.7" width="126.9" height="5.8" fill="#ff3c8c" opacity="0.12"/>
<line x1="30.1" x2="156.2" y1="238.85" y2="238.85" stroke="#7c5a42" stroke-width="1.8"/>
<path d="M30.85,181.80H156.20V296.40H30.85" fill="none" stroke="#b3b3b3" stroke-width="1.5"/>
<line x1="31.60" x2="31.60" y1="181.05" y2="297.15" stroke="#e2e2e2" stroke-width="1.2"/>
<line x1="29.3" x2="31.6" y1="291.4" y2="291.4" stroke="#666" stroke-width="0.8"/>
<g transform="translate(29.00,295.40) scale(1,1.03)"><text x="-14.89" y="0" font-size="10.3">-</text><path class="g" d="M-8.52,0.00L-7.61,0.00L-7.61,-7.30L-8.35,-7.30L-8.57,-6.80L-8.98,-6.34L-9.60,-6.03L-10.38,-5.87L-10.38,-5.23L-9.60,-5.33L-8.98,-5.51L-8.52,-5.77Z"/><text x="-5.73" y="0" font-size="10.3">0</text></g>
<line x1="29.3" x2="31.6" y1="265.3" y2="265.3" stroke="#666" stroke-width="0.8"/>
<text transform="translate(29.00,269.32) scale(1,1.03)" font-size="10.3" text-anchor="end">-5</text>
<line x1="29.3" x2="31.6" y1="239.2" y2="239.2" stroke="#666" stroke-width="0.8"/>
<text transform="translate(29.00,243.25) scale(1,1.03)" font-size="10.3" text-anchor="end">0</text>
<line x1="29.3" x2="31.6" y1="213.2" y2="213.2" stroke="#666" stroke-width="0.8"/>
<text transform="translate(29.00,217.17) scale(1,1.03)" font-size="10.3" text-anchor="end">5</text>
<line x1="29.3" x2="31.6" y1="187.1" y2="187.1" stroke="#666" stroke-width="0.8"/>
<g transform="translate(29.00,191.10) scale(1,1.03)"><path class="g" d="M-8.52,0.00L-7.61,0.00L-7.61,-7.30L-8.35,-7.30L-8.57,-6.80L-8.98,-6.34L-9.60,-6.03L-10.38,-5.87L-10.38,-5.23L-9.60,-5.33L-8.98,-5.51L-8.52,-5.77Z"/><text x="-5.73" y="0" font-size="10.3">0</text></g>
<line x1="37.4" x2="37.4" y1="296.4" y2="298.7" stroke="#666" stroke-width="0.8"/>
<text transform="translate(37.40,307.00)" font-size="10.3" text-anchor="middle">0</text>
<line x1="76.0" x2="76.0" y1="296.4" y2="298.7" stroke="#666" stroke-width="0.8"/>
<g transform="translate(76.04,307.00)"><path class="g" d="M-5.66,0.00L-4.75,0.00L-4.75,-7.30L-5.48,-7.30L-5.71,-6.80L-6.12,-6.34L-6.74,-6.03L-7.51,-5.87L-7.51,-5.23L-6.74,-5.33L-6.12,-5.51L-5.66,-5.77Z"/><text x="-2.86" y="0" font-size="10.3">48</text></g>
<line x1="112.6" x2="112.6" y1="296.4" y2="298.7" stroke="#666" stroke-width="0.8"/>
<text transform="translate(112.60,307.00)" font-size="10.3" text-anchor="middle">288</text>
<line x1="150.2" x2="150.2" y1="296.4" y2="298.7" stroke="#666" stroke-width="0.8"/>
<text transform="translate(150.20,307.00)" font-size="10.3" text-anchor="middle">432</text>
<text transform="translate(93.90,318.80) scale(1,1.1)" font-size="10.2" text-anchor="middle">Time (hours)</text>
<text transform="translate(9.40,238.00) rotate(-90) scale(1,0.95)" font-size="10.2" text-anchor="middle" style="stroke-width:0.1px">Iwres</text>
<text transform="translate(288.70,175.50) scale(1,1.08)" font-size="12.5" text-anchor="middle">Dose = 750 mg</text>
<g fill="none" stroke="#000" stroke-width="0.75" stroke-opacity="0.7"><circle cx="250.4" cy="218.1" r="2.7"/><circle cx="301.0" cy="228.4" r="2.7"/><circle cx="232.8" cy="226.0" r="2.7"/><circle cx="236.8" cy="225.5" r="2.7"/><circle cx="240.9" cy="226.5" r="2.7"/><circle cx="230.5" cy="228.5" r="2.7"/><circle cx="232.9" cy="235.6" r="2.7"/><circle cx="232.8" cy="240.0" r="2.7"/><circle cx="232.9" cy="242.7" r="2.7"/><circle cx="232.1" cy="241.6" r="2.7"/><circle cx="232.1" cy="239.1" r="2.7"/><circle cx="233.7" cy="245.8" r="2.7"/><circle cx="233.8" cy="236.3" r="2.7"/><circle cx="233.5" cy="247.5" r="2.7"/><circle cx="232.9" cy="242.8" r="2.7"/><circle cx="233.4" cy="239.7" r="2.7"/><circle cx="232.1" cy="244.4" r="2.7"/><circle cx="232.3" cy="239.7" r="2.7"/><circle cx="232.3" cy="246.7" r="2.7"/><circle cx="232.4" cy="240.9" r="2.7"/><circle cx="232.6" cy="236.3" r="2.7"/><circle cx="232.3" cy="247.7" r="2.7"/><circle cx="233.2" cy="244.1" r="2.7"/><circle cx="232.2" cy="242.7" r="2.7"/><circle cx="232.6" cy="246.6" r="2.7"/><circle cx="233.0" cy="246.2" r="2.7"/><circle cx="232.2" cy="238.2" r="2.7"/><circle cx="233.4" cy="247.7" r="2.7"/><circle cx="233.0" cy="244.5" r="2.7"/><circle cx="232.8" cy="244.2" r="2.7"/><circle cx="232.1" cy="238.0" r="2.7"/><circle cx="232.5" cy="245.8" r="2.7"/><circle cx="233.2" cy="233.8" r="2.7"/><circle cx="232.1" cy="242.4" r="2.7"/><circle cx="232.8" cy="246.3" r="2.7"/><circle cx="232.2" cy="242.9" r="2.7"/><circle cx="232.0" cy="238.8" r="2.7"/><circle cx="232.2" cy="236.9" r="2.7"/><circle cx="233.1" cy="236.7" r="2.7"/><circle cx="233.1" cy="235.7" r="2.7"/><circle cx="233.7" cy="235.9" r="2.7"/><circle cx="232.2" cy="240.3" r="2.7"/><circle cx="233.6" cy="238.4" r="2.7"/><circle cx="232.0" cy="242.5" r="2.7"/><circle cx="233.0" cy="242.8" r="2.7"/><circle cx="232.8" cy="240.5" r="2.7"/><circle cx="232.0" cy="226.5" r="2.7"/><circle cx="234.5" cy="226.0" r="2.7"/><circle cx="237.5" cy="227.5" r="2.7"/><circle cx="236.6" cy="230.5" r="2.7"/><circle cx="236.9" cy="232.8" r="2.7"/><circle cx="236.6" cy="235.1" r="2.7"/><circle cx="236.6" cy="238.3" r="2.7"/><circle cx="237.4" cy="240.7" r="2.7"/><circle cx="236.8" cy="242.9" r="2.7"/><circle cx="237.0" cy="246.0" r="2.7"/><circle cx="241.2" cy="230.2" r="2.7"/><circle cx="240.7" cy="232.4" r="2.7"/><circle cx="240.5" cy="235.2" r="2.7"/><circle cx="241.1" cy="238.4" r="2.7"/><circle cx="240.5" cy="240.8" r="2.7"/><circle cx="241.1" cy="243.6" r="2.7"/><circle cx="241.1" cy="245.9" r="2.7"/><circle cx="244.8" cy="231.1" r="2.7"/><circle cx="244.8" cy="233.3" r="2.7"/><circle cx="244.9" cy="235.9" r="2.7"/><circle cx="245.2" cy="239.2" r="2.7"/><circle cx="245.2" cy="242.0" r="2.7"/><circle cx="245.0" cy="244.0" r="2.7"/><circle cx="245.2" cy="246.8" r="2.7"/><circle cx="250.5" cy="231.7" r="2.7"/><circle cx="251.1" cy="234.4" r="2.7"/><circle cx="251.0" cy="236.6" r="2.7"/><circle cx="250.5" cy="238.9" r="2.7"/><circle cx="250.9" cy="241.7" r="2.7"/><circle cx="250.9" cy="245.0" r="2.7"/><circle cx="251.0" cy="246.9" r="2.7"/><circle cx="256.6" cy="230.9" r="2.7"/><circle cx="256.9" cy="234.2" r="2.7"/><circle cx="256.9" cy="236.6" r="2.7"/><circle cx="256.8" cy="239.6" r="2.7"/><circle cx="257.0" cy="242.1" r="2.7"/><circle cx="256.7" cy="244.8" r="2.7"/><circle cx="263.6" cy="229.9" r="2.7"/><circle cx="263.3" cy="232.0" r="2.7"/><circle cx="263.2" cy="234.7" r="2.7"/><circle cx="263.2" cy="237.5" r="2.7"/><circle cx="263.2" cy="239.0" r="2.7"/><circle cx="263.4" cy="242.4" r="2.7"/><circle cx="263.1" cy="244.0" r="2.7"/><circle cx="270.5" cy="229.2" r="2.7"/><circle cx="270.5" cy="232.0" r="2.7"/><circle cx="270.0" cy="234.2" r="2.7"/><circle cx="270.2" cy="236.2" r="2.7"/><circle cx="270.6" cy="238.6" r="2.7"/><circle cx="270.0" cy="240.8" r="2.7"/><circle cx="276.7" cy="234.8" r="2.7"/><circle cx="276.1" cy="237.3" r="2.7"/><circle cx="276.1" cy="239.1" r="2.7"/><circle cx="276.7" cy="241.4" r="2.7"/><circle cx="276.5" cy="244.7" r="2.7"/><circle cx="288.3" cy="237.0" r="2.7"/><circle cx="287.9" cy="238.7" r="2.7"/><circle cx="288.4" cy="240.6" r="2.7"/><circle cx="288.1" cy="242.9" r="2.7"/><circle cx="287.8" cy="245.3" r="2.7"/><circle cx="300.8" cy="239.5" r="2.7"/><circle cx="300.9" cy="241.4" r="2.7"/><circle cx="301.4" cy="242.4" r="2.7"/><circle cx="314.0" cy="231.9" r="2.7"/><circle cx="313.3" cy="234.4" r="2.7"/><circle cx="313.6" cy="236.5" r="2.7"/><circle cx="313.6" cy="239.3" r="2.7"/><circle cx="313.7" cy="241.6" r="2.7"/><circle cx="314.0" cy="243.4" r="2.7"/><circle cx="314.0" cy="245.7" r="2.7"/><circle cx="325.8" cy="236.6" r="2.7"/><circle cx="326.4" cy="238.7" r="2.7"/><circle cx="325.8" cy="241.6" r="2.7"/><circle cx="326.2" cy="243.3" r="2.7"/><circle cx="325.9" cy="245.7" r="2.7"/><circle cx="326.1" cy="247.5" r="2.7"/><circle cx="338.3" cy="229.4" r="2.7"/><circle cx="338.3" cy="231.7" r="2.7"/><circle cx="338.7" cy="233.1" r="2.7"/><circle cx="338.2" cy="235.5" r="2.7"/><circle cx="338.2" cy="237.7" r="2.7"/><circle cx="338.7" cy="240.0" r="2.7"/></g>
<rect x="225.1" y="231.7" width="126.5" height="5.8" fill="#ff3c8c" opacity="0.12"/>
<line x1="225.1" x2="350.8" y1="238.85" y2="238.85" stroke="#7c5a42" stroke-width="1.8"/>
<path d="M225.85,181.80H350.80V296.40H225.85" fill="none" stroke="#b3b3b3" stroke-width="1.5"/>
<line x1="226.60" x2="226.60" y1="181.05" y2="297.15" stroke="#c0c0c0" stroke-width="1.2"/>
<line x1="224.3" x2="226.6" y1="291.4" y2="291.4" stroke="#666" stroke-width="0.8"/>
<g transform="translate(224.00,295.40) scale(1,1.03)"><text x="-14.89" y="0" font-size="10.3">-</text><path class="g" d="M-8.52,0.00L-7.61,0.00L-7.61,-7.30L-8.35,-7.30L-8.57,-6.80L-8.98,-6.34L-9.60,-6.03L-10.38,-5.87L-10.38,-5.23L-9.60,-5.33L-8.98,-5.51L-8.52,-5.77Z"/><text x="-5.73" y="0" font-size="10.3">0</text></g>
<line x1="224.3" x2="226.6" y1="265.3" y2="265.3" stroke="#666" stroke-width="0.8"/>
<text transform="translate(224.00,269.32) scale(1,1.03)" font-size="10.3" text-anchor="end">-5</text>
<line x1="224.3" x2="226.6" y1="239.2" y2="239.2" stroke="#666" stroke-width="0.8"/>
<text transform="translate(224.00,243.25) scale(1,1.03)" font-size="10.3" text-anchor="end">0</text>
<line x1="224.3" x2="226.6" y1="213.2" y2="213.2" stroke="#666" stroke-width="0.8"/>
<text transform="translate(224.00,217.17) scale(1,1.03)" font-size="10.3" text-anchor="end">5</text>
<line x1="224.3" x2="226.6" y1="187.1" y2="187.1" stroke="#666" stroke-width="0.8"/>
<g transform="translate(224.00,191.10) scale(1,1.03)"><path class="g" d="M-8.52,0.00L-7.61,0.00L-7.61,-7.30L-8.35,-7.30L-8.57,-6.80L-8.98,-6.34L-9.60,-6.03L-10.38,-5.87L-10.38,-5.23L-9.60,-5.33L-8.98,-5.51L-8.52,-5.77Z"/><text x="-5.73" y="0" font-size="10.3">0</text></g>
<line x1="232.1" x2="232.1" y1="296.4" y2="298.7" stroke="#666" stroke-width="0.8"/>
<text transform="translate(232.10,307.00)" font-size="10.3" text-anchor="middle">0</text>
<line x1="271.0" x2="271.0" y1="296.4" y2="298.7" stroke="#666" stroke-width="0.8"/>
<g transform="translate(270.98,307.00)"><path class="g" d="M-5.66,0.00L-4.75,0.00L-4.75,-7.30L-5.48,-7.30L-5.71,-6.80L-6.12,-6.34L-6.74,-6.03L-7.51,-5.87L-7.51,-5.23L-6.74,-5.33L-6.12,-5.51L-5.66,-5.77Z"/><text x="-2.86" y="0" font-size="10.3">48</text></g>
<line x1="307.8" x2="307.8" y1="296.4" y2="298.7" stroke="#666" stroke-width="0.8"/>
<text transform="translate(307.77,307.00)" font-size="10.3" text-anchor="middle">288</text>
<line x1="345.6" x2="345.6" y1="296.4" y2="298.7" stroke="#666" stroke-width="0.8"/>
<text transform="translate(345.60,307.00)" font-size="10.3" text-anchor="middle">432</text>
<text transform="translate(288.70,318.80) scale(1,1.1)" font-size="10.2" text-anchor="middle">Time (hours)</text>
<text transform="translate(204.40,238.00) rotate(-90) scale(1,0.95)" font-size="10.2" text-anchor="middle" style="stroke-width:0.1px">Iwres</text>
<g transform="translate(483.45,175.50) scale(1,1.08)"><text x="-46.04" y="0" font-size="12.5">Dose = </text><path class="g" d="M0.96,0.00L2.05,0.00L2.05,-8.86L1.16,-8.86L0.89,-8.25L0.39,-7.69L-0.36,-7.31L-1.30,-7.12L-1.30,-6.35L-0.36,-6.46L0.39,-6.69L0.96,-7.00Z"/><text x="4.34" y="0" font-size="12.5">500 mg</text></g>
<g fill="none" stroke="#000" stroke-width="0.75" stroke-opacity="0.7"><circle cx="431.4" cy="218.3" r="2.7"/><circle cx="445.6" cy="215.3" r="2.7"/><circle cx="452.1" cy="223.8" r="2.7"/><circle cx="445.6" cy="228.0" r="2.7"/><circle cx="482.6" cy="224.2" r="2.7"/><circle cx="427.2" cy="226.6" r="2.7"/><circle cx="432.1" cy="225.2" r="2.7"/><circle cx="428.1" cy="236.3" r="2.7"/><circle cx="427.3" cy="237.8" r="2.7"/><circle cx="428.3" cy="245.7" r="2.7"/><circle cx="426.7" cy="235.7" r="2.7"/><circle cx="428.3" cy="237.6" r="2.7"/><circle cx="428.3" cy="238.9" r="2.7"/><circle cx="427.7" cy="239.6" r="2.7"/><circle cx="427.3" cy="234.0" r="2.7"/><circle cx="428.2" cy="233.4" r="2.7"/><circle cx="428.0" cy="238.5" r="2.7"/><circle cx="428.1" cy="233.5" r="2.7"/><circle cx="427.5" cy="239.7" r="2.7"/><circle cx="427.2" cy="242.2" r="2.7"/><circle cx="428.2" cy="234.0" r="2.7"/><circle cx="427.1" cy="239.9" r="2.7"/><circle cx="427.0" cy="234.5" r="2.7"/><circle cx="428.5" cy="248.1" r="2.7"/><circle cx="426.9" cy="247.2" r="2.7"/><circle cx="428.1" cy="245.9" r="2.7"/><circle cx="427.5" cy="241.7" r="2.7"/><circle cx="426.9" cy="237.7" r="2.7"/><circle cx="426.8" cy="244.2" r="2.7"/><circle cx="427.9" cy="241.6" r="2.7"/><circle cx="427.5" cy="241.2" r="2.7"/><circle cx="427.4" cy="243.2" r="2.7"/><circle cx="427.7" cy="237.1" r="2.7"/><circle cx="427.5" cy="243.1" r="2.7"/><circle cx="428.3" cy="237.0" r="2.7"/><circle cx="427.9" cy="231.7" r="2.7"/><circle cx="427.5" cy="241.6" r="2.7"/><circle cx="426.9" cy="244.0" r="2.7"/><circle cx="428.0" cy="239.5" r="2.7"/><circle cx="427.5" cy="243.9" r="2.7"/><circle cx="427.4" cy="241.9" r="2.7"/><circle cx="427.9" cy="238.4" r="2.7"/><circle cx="427.4" cy="247.1" r="2.7"/><circle cx="426.8" cy="234.1" r="2.7"/><circle cx="428.1" cy="237.6" r="2.7"/><circle cx="427.7" cy="243.0" r="2.7"/><circle cx="427.6" cy="239.3" r="2.7"/><circle cx="427.0" cy="225.5" r="2.7"/><circle cx="429.5" cy="224.5" r="2.7"/><circle cx="433.8" cy="230.4" r="2.7"/><circle cx="434.2" cy="232.5" r="2.7"/><circle cx="433.9" cy="234.7" r="2.7"/><circle cx="434.0" cy="237.4" r="2.7"/><circle cx="434.2" cy="239.6" r="2.7"/><circle cx="433.4" cy="242.3" r="2.7"/><circle cx="433.7" cy="244.7" r="2.7"/><circle cx="432.4" cy="231.6" r="2.7"/><circle cx="432.7" cy="234.3" r="2.7"/><circle cx="432.3" cy="236.6" r="2.7"/><circle cx="432.7" cy="238.7" r="2.7"/><circle cx="432.5" cy="241.7" r="2.7"/><circle cx="432.7" cy="243.3" r="2.7"/><circle cx="432.3" cy="245.8" r="2.7"/><circle cx="439.2" cy="233.7" r="2.7"/><circle cx="439.1" cy="236.9" r="2.7"/><circle cx="439.0" cy="239.0" r="2.7"/><circle cx="439.4" cy="241.2" r="2.7"/><circle cx="439.1" cy="243.8" r="2.7"/><circle cx="437.3" cy="233.4" r="2.7"/><circle cx="436.8" cy="235.4" r="2.7"/><circle cx="436.7" cy="237.9" r="2.7"/><circle cx="436.9" cy="240.5" r="2.7"/><circle cx="436.8" cy="242.9" r="2.7"/><circle cx="436.8" cy="244.8" r="2.7"/><circle cx="445.3" cy="235.5" r="2.7"/><circle cx="445.8" cy="237.6" r="2.7"/><circle cx="445.4" cy="240.3" r="2.7"/><circle cx="445.6" cy="242.8" r="2.7"/><circle cx="445.7" cy="245.4" r="2.7"/><circle cx="445.5" cy="248.1" r="2.7"/><circle cx="452.4" cy="234.5" r="2.7"/><circle cx="452.4" cy="235.9" r="2.7"/><circle cx="452.3" cy="238.9" r="2.7"/><circle cx="452.4" cy="240.3" r="2.7"/><circle cx="451.7" cy="243.0" r="2.7"/><circle cx="458.8" cy="230.3" r="2.7"/><circle cx="458.2" cy="233.6" r="2.7"/><circle cx="458.1" cy="235.6" r="2.7"/><circle cx="458.6" cy="238.4" r="2.7"/><circle cx="458.1" cy="241.1" r="2.7"/><circle cx="458.6" cy="244.3" r="2.7"/><circle cx="464.9" cy="231.2" r="2.7"/><circle cx="464.8" cy="234.1" r="2.7"/><circle cx="464.9" cy="236.7" r="2.7"/><circle cx="464.9" cy="239.3" r="2.7"/><circle cx="464.8" cy="241.3" r="2.7"/><circle cx="464.8" cy="244.1" r="2.7"/><circle cx="464.9" cy="246.5" r="2.7"/><circle cx="470.6" cy="228.5" r="2.7"/><circle cx="470.5" cy="230.5" r="2.7"/><circle cx="470.4" cy="233.1" r="2.7"/><circle cx="470.5" cy="235.4" r="2.7"/><circle cx="470.8" cy="237.8" r="2.7"/><circle cx="471.1" cy="240.2" r="2.7"/><circle cx="471.1" cy="242.0" r="2.7"/><circle cx="482.7" cy="232.3" r="2.7"/><circle cx="482.9" cy="235.0" r="2.7"/><circle cx="482.5" cy="237.2" r="2.7"/><circle cx="482.3" cy="240.3" r="2.7"/><circle cx="482.7" cy="242.4" r="2.7"/><circle cx="482.7" cy="244.3" r="2.7"/><circle cx="482.9" cy="247.5" r="2.7"/><circle cx="496.3" cy="230.6" r="2.7"/><circle cx="495.9" cy="232.9" r="2.7"/><circle cx="495.5" cy="235.4" r="2.7"/><circle cx="496.0" cy="237.4" r="2.7"/><circle cx="496.2" cy="239.1" r="2.7"/><circle cx="495.9" cy="241.3" r="2.7"/><circle cx="508.7" cy="233.7" r="2.7"/><circle cx="508.4" cy="236.0" r="2.7"/><circle cx="508.5" cy="238.9" r="2.7"/><circle cx="508.3" cy="241.9" r="2.7"/><circle cx="508.4" cy="244.6" r="2.7"/><circle cx="508.3" cy="246.9" r="2.7"/><circle cx="508.9" cy="249.5" r="2.7"/><circle cx="521.2" cy="230.3" r="2.7"/><circle cx="520.9" cy="232.4" r="2.7"/><circle cx="521.1" cy="234.8" r="2.7"/><circle cx="521.2" cy="237.6" r="2.7"/><circle cx="521.2" cy="239.5" r="2.7"/><circle cx="521.0" cy="242.8" r="2.7"/><circle cx="520.8" cy="244.4" r="2.7"/><circle cx="520.8" cy="246.8" r="2.7"/><circle cx="533.7" cy="237.1" r="2.7"/><circle cx="533.8" cy="239.1" r="2.7"/><circle cx="533.7" cy="241.6" r="2.7"/><circle cx="533.7" cy="243.6" r="2.7"/><circle cx="533.7" cy="245.9" r="2.7"/><circle cx="533.4" cy="248.2" r="2.7"/></g>
<rect x="419.8" y="231.7" width="126.6" height="5.8" fill="#ff3c8c" opacity="0.12"/>
<line x1="419.8" x2="545.6" y1="238.85" y2="238.85" stroke="#7c5a42" stroke-width="1.8"/>
<path d="M420.55,181.80H545.60V296.40H420.55" fill="none" stroke="#b3b3b3" stroke-width="1.5"/>
<line x1="421.30" x2="421.30" y1="181.05" y2="297.15" stroke="#d5d5d5" stroke-width="1.2"/>
<line x1="419.0" x2="421.3" y1="291.4" y2="291.4" stroke="#666" stroke-width="0.8"/>
<g transform="translate(418.70,295.40) scale(1,1.03)"><text x="-14.89" y="0" font-size="10.3">-</text><path class="g" d="M-8.52,0.00L-7.61,0.00L-7.61,-7.30L-8.35,-7.30L-8.57,-6.80L-8.98,-6.34L-9.60,-6.03L-10.38,-5.87L-10.38,-5.23L-9.60,-5.33L-8.98,-5.51L-8.52,-5.77Z"/><text x="-5.73" y="0" font-size="10.3">0</text></g>
<line x1="419.0" x2="421.3" y1="265.3" y2="265.3" stroke="#666" stroke-width="0.8"/>
<text transform="translate(418.70,269.32) scale(1,1.03)" font-size="10.3" text-anchor="end">-5</text>
<line x1="419.0" x2="421.3" y1="239.2" y2="239.2" stroke="#666" stroke-width="0.8"/>
<text transform="translate(418.70,243.25) scale(1,1.03)" font-size="10.3" text-anchor="end">0</text>
<line x1="419.0" x2="421.3" y1="213.2" y2="213.2" stroke="#666" stroke-width="0.8"/>
<text transform="translate(418.70,217.17) scale(1,1.03)" font-size="10.3" text-anchor="end">5</text>
<line x1="419.0" x2="421.3" y1="187.1" y2="187.1" stroke="#666" stroke-width="0.8"/>
<g transform="translate(418.70,191.10) scale(1,1.03)"><path class="g" d="M-8.52,0.00L-7.61,0.00L-7.61,-7.30L-8.35,-7.30L-8.57,-6.80L-8.98,-6.34L-9.60,-6.03L-10.38,-5.87L-10.38,-5.23L-9.60,-5.33L-8.98,-5.51L-8.52,-5.77Z"/><text x="-5.73" y="0" font-size="10.3">0</text></g>
<line x1="426.6" x2="426.6" y1="296.4" y2="298.7" stroke="#666" stroke-width="0.8"/>
<text transform="translate(426.60,307.00)" font-size="10.3" text-anchor="middle">0</text>
<line x1="465.8" x2="465.8" y1="296.4" y2="298.7" stroke="#666" stroke-width="0.8"/>
<g transform="translate(465.79,307.00)"><path class="g" d="M-5.66,0.00L-4.75,0.00L-4.75,-7.30L-5.48,-7.30L-5.71,-6.80L-6.12,-6.34L-6.74,-6.03L-7.51,-5.87L-7.51,-5.23L-6.74,-5.33L-6.12,-5.51L-5.66,-5.77Z"/><text x="-2.86" y="0" font-size="10.3">48</text></g>
<line x1="502.9" x2="502.9" y1="296.4" y2="298.7" stroke="#666" stroke-width="0.8"/>
<text transform="translate(502.87,307.00)" font-size="10.3" text-anchor="middle">288</text>
<line x1="541.0" x2="541.0" y1="296.4" y2="298.7" stroke="#666" stroke-width="0.8"/>
<text transform="translate(541.00,307.00)" font-size="10.3" text-anchor="middle">432</text>
<text transform="translate(483.45,318.80) scale(1,1.1)" font-size="10.2" text-anchor="middle">Time (hours)</text>
<text transform="translate(399.10,238.00) rotate(-90) scale(1,0.95)" font-size="10.2" text-anchor="middle" style="stroke-width:0.1px">Iwres</text>
</svg></body></html>
